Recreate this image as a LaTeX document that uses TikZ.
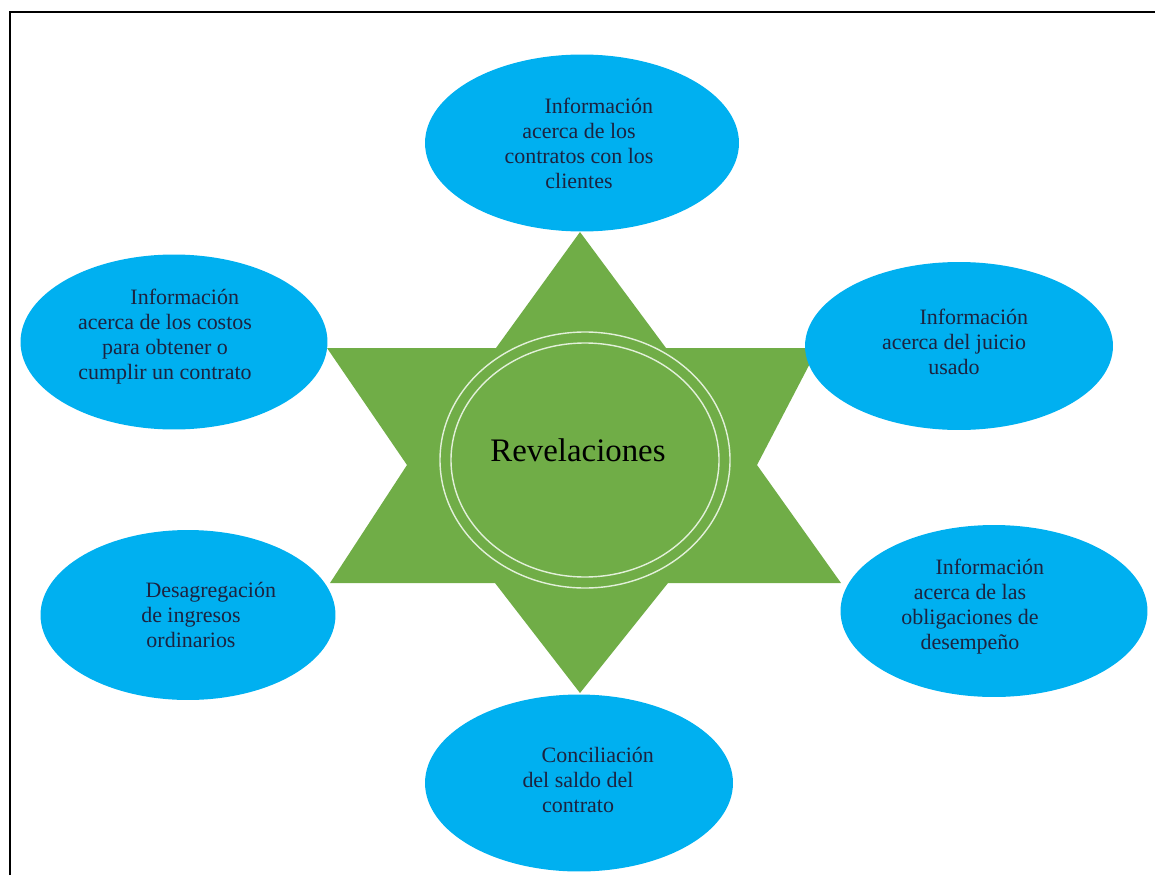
\documentclass[tikz,border=0pt]{standalone}
\usepackage{fontspec}
\setmainfont{Liberation Serif}
\usetikzlibrary{shapes.geometric}
\definecolor{starGreen}{HTML}{70AD47}
\definecolor{bubbleBlue}{HTML}{00B0F0}
\definecolor{ringLine}{HTML}{E2F0D9}
\definecolor{labelInk}{HTML}{1C2340}
\tikzset{
  bubble/.style={ellipse, fill=bubbleBlue, draw=none, inner sep=0pt},
  bubbletext/.style={align=center, text=labelInk, inner sep=0pt,
    font=\fontsize{12.5}{14.2}\selectfont},
  ring/.style={ringLine, line width=0.8pt}
}

\begin{document}
\begin{tikzpicture}[x=0.02cm, y=-0.02cm]
\useasboundingbox (0,0) rectangle (1155,875);
% frame
\draw[line width=1.1pt] (10,875) -- (10,12) -- (1155,12);
% star
\fill[starGreen] (580,232) -- (666,348) -- (818,348) -- (757,465) -- (841,583) -- (668,583)
  -- (580,693) -- (495,583) -- (330,583) -- (407,465) -- (327,348) -- (496,348) -- cycle;
\draw[ring] (585,460) ellipse [x radius=145, y radius=128];
\draw[ring] (585,460) ellipse [x radius=134, y radius=117];
\node[text=black, font=\fontsize{18.7}{22}\selectfont] (rev) at (578,450) {Revelaciones};
% bubbles
\node[bubble, minimum width=6.28cm, minimum height=3.54cm] (contratos) at (582,143) {};
\node[bubble, minimum width=6.14cm, minimum height=3.5cm] (costos) at (174,342) {};
\node[bubble, minimum width=6.16cm, minimum height=3.36cm] (juicio) at (959,346) {};
\node[bubble, minimum width=5.9cm, minimum height=3.4cm] (desagregacion) at (188,615) {};
\node[bubble, minimum width=6.14cm, minimum height=3.44cm] (obligaciones) at (994,611) {};
\node[bubble, minimum width=6.16cm, minimum height=3.54cm] (conciliacion) at (579,783) {};
% texts
\node[bubbletext] (contratos-txt) at ([xshift=-0.06cm]contratos.center)
  {\hspace*{1.8em}Información\\acerca de los\\contratos con los\\clientes};
\node[bubbletext] (costos-txt) at ([xshift=-0.18cm, yshift=0.1cm]costos.center)
  {\hspace*{1.8em}Información\\acerca de los costos\\para obtener o\\cumplir un contrato};
\node[bubbletext] (juicio-txt) at ([xshift=-0.1cm, yshift=0.08cm]juicio.center)
  {\hspace*{1.8em}Información\\acerca del juicio\\usado};
\node[bubbletext] (desagregacion-txt) at ([xshift=0.06cm]desagregacion.center)
  {\hspace*{1.8em}Desagregación\\de ingresos\\ordinarios};
\node[bubbletext] (obligaciones-txt) at ([xshift=-0.48cm, yshift=0.08cm]obligaciones.center)
  {\hspace*{1.8em}Información\\acerca de las\\obligaciones de\\desempeño};
\node[bubbletext] (conciliacion-txt) at ([xshift=-0.02cm, yshift=0.06cm]conciliacion.center)
  {\hspace*{1.8em}Conciliación\\del saldo del\\contrato};
\end{tikzpicture}
\end{document}
